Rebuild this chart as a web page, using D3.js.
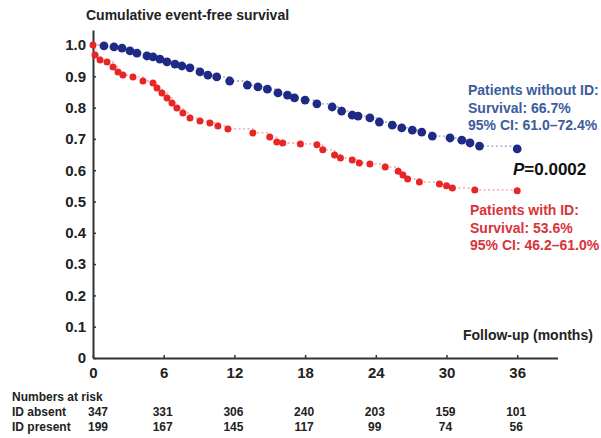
<!DOCTYPE html>
<html><head><meta charset="utf-8">
<script src="https://cdn.jsdelivr.net/npm/d3@7"></script>
<style>
body{margin:0;background:#fff;}
text{font-family:"Liberation Sans",Arial,sans-serif;font-weight:bold;}
</style></head>
<body><svg id="c" width="601" height="438"></svg>
<script>
// Kaplan-Meier points (months, survival)
const blueMonths = [0,0.93,1.78,2.46,3.14,3.73,4.58,5.09,5.68,6.28,6.96,7.55,8.23,9.08,9.75,10.5,11.6,13.1,14.0,14.8,15.7,16.5,17.1,18.0,19.0,20.3,21.1,22.0,22.5,23.5,24.3,25.4,26.2,27.1,27.9,28.8,30.3,31.3,32.0,32.8,36.0];
const blueSurv   = [1.0,0.997,0.994,0.990,0.981,0.974,0.965,0.962,0.955,0.946,0.939,0.933,0.927,0.914,0.904,0.898,0.885,0.872,0.866,0.859,0.847,0.840,0.831,0.824,0.812,0.802,0.789,0.776,0.773,0.767,0.754,0.744,0.735,0.728,0.722,0.709,0.703,0.696,0.687,0.677,0.668];
const redMonths = [0,0.17,0.6,1.19,1.7,2.12,2.54,3.39,4.24,5.09,5.43,5.85,6.28,6.7,7.12,7.63,8.23,9.08,9.92,10.6,11.45,13.57,15.0,15.6,16.1,17.6,19.0,19.5,20.5,21.0,22.0,22.6,23.5,24.8,25.9,26.3,26.7,27.7,29.4,30.0,30.5,32.4,36.0];
const redSurv   = [1.0,0.968,0.952,0.946,0.930,0.914,0.904,0.898,0.885,0.879,0.863,0.847,0.831,0.815,0.799,0.783,0.767,0.757,0.751,0.741,0.732,0.719,0.706,0.690,0.687,0.684,0.681,0.665,0.649,0.639,0.633,0.623,0.620,0.610,0.597,0.585,0.572,0.562,0.556,0.550,0.543,0.537,0.534];
const xTicks = [0,6,12,18,24,30,36];
const yTicks = [0,0.1,0.2,0.3,0.4,0.5,0.6,0.7,0.8,0.9,1.0];
const riskAbsent  = [347,331,306,240,203,159,101];
const riskPresent = [199,167,145,117,99,74,56];
const blueLabel = ["Patients without ID:","Survival: 66.7%","95% CI: 61.0\u201372.4%"];
const redLabel  = ["Patients with ID:","Survival: 53.6%","95% CI: 46.2\u201361.0%"];

const svg = d3.select("#c");
const x = d3.scaleLinear().domain([0,39.42]).range([93,557.5]);
const y = d3.scaleLinear().domain([0,1.048]).range([358,30]);

svg.append("text").attr("x",86).attr("y",20).attr("font-size",14).attr("fill","#222")
  .text("Cumulative event-free survival");

const yAxis = d3.axisLeft(y).tickValues(yTicks).tickSize(-3).tickSizeOuter(0).tickPadding(7)
  .tickFormat(d => d===0 ? "0" : d3.format(".1f")(d));
const gy = svg.append("g").attr("transform","translate(93,0)").call(yAxis);
const xAxis = d3.axisBottom(x).tickValues(xTicks).tickSize(-3).tickSizeOuter(0).tickPadding(9);
const gx = svg.append("g").attr("transform","translate(0,358)").call(xAxis);
[gx,gy].forEach(g=>{
  g.select(".domain").attr("stroke","#333").attr("stroke-width",2);
  g.selectAll(".tick line").attr("stroke","#333").attr("stroke-width",1.5);
  g.selectAll(".tick text").attr("font-size",15).attr("fill","#222")
    .attr("font-family","'Liberation Sans',Arial,sans-serif").attr("font-weight","bold");
});

function curve(months, surv, color, r){
  const pts = months.map((m,i)=>({m, s:surv[i]}));
  const line = d3.line().x(d=>x(d.m)).y(d=>y(d.s)).curve(d3.curveStepAfter);
  svg.append("path").attr("d",line(pts)).attr("fill","none").attr("stroke",color)
    .attr("stroke-width",1.3).attr("stroke-opacity",0.45).attr("stroke-dasharray","2,2.5");
  svg.append("g").selectAll("circle").data(pts.slice(1)).join("circle")
    .attr("cx",d=>x(d.m)).attr("cy",d=>y(d.s)).attr("r",r).attr("fill",color);
}
curve(blueMonths, blueSurv, "#1f2a86", 4.4);
curve(redMonths, redSurv, "#e82626", 3.5);
svg.append("circle").attr("cx",x(redMonths[0])).attr("cy",y(redSurv[0])).attr("r",3.5).attr("fill","#e82626");

svg.append("g").selectAll("text").data(blueLabel).join("text")
  .attr("x",468).attr("y",(d,i)=>95+i*17.5).attr("font-size",14).attr("fill","#3b5d9c").text(d=>d);
svg.append("g").selectAll("text").data(redLabel).join("text")
  .attr("x",470).attr("y",(d,i)=>215+i*17.5).attr("font-size",14).attr("fill","#d8333a").text(d=>d);

const p = svg.append("text").attr("x",513).attr("y",175).attr("font-size",17).attr("fill","#111");
p.append("tspan").attr("font-style","italic").text("P");
p.append("tspan").text("=0.0002");

svg.append("text").attr("x",463).attr("y",340).attr("font-size",14).attr("fill","#222").text("Follow-up (months)");

svg.append("text").attr("x",12).attr("y",401).attr("font-size",12).attr("fill","#222").text("Numbers at risk");
svg.append("text").attr("x",12).attr("y",416).attr("font-size",12).attr("fill","#222").text("ID absent");
svg.append("text").attr("x",12).attr("y",431).attr("font-size",12).attr("fill","#222").text("ID present");
svg.append("g").selectAll("text").data(riskAbsent).join("text")
  .attr("x",(d,i)=>x(xTicks[i])+(i===0?5:-1)).attr("y",416).attr("text-anchor","middle")
  .attr("font-size",12).attr("fill","#222").text(d=>d);
svg.append("g").selectAll("text").data(riskPresent).join("text")
  .attr("x",(d,i)=>x(xTicks[i])+(i===0?5:-1)).attr("y",431).attr("text-anchor","middle")
  .attr("font-size",12).attr("fill","#222").text(d=>d);
</script></body></html>
